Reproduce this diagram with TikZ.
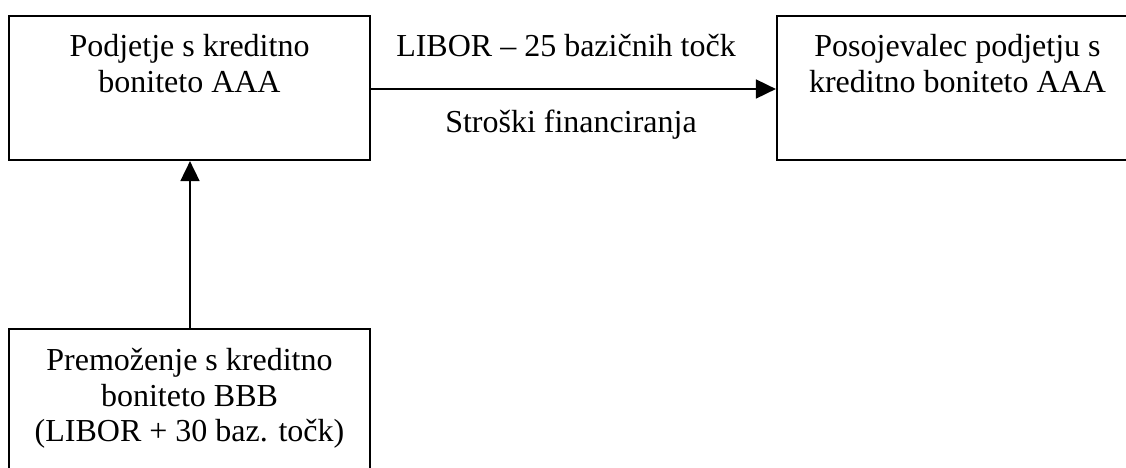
\documentclass[tikz,border=0pt]{standalone}
\usepackage{fontspec}
\setmainfont{Liberation Serif}
\usetikzlibrary{arrows.meta}
\begin{document}
\begin{tikzpicture}[x=0.5pt,y=-0.5pt,
  box/.style={draw, line width=1.1pt, minimum width=180.5pt, minimum height=72pt, inner sep=0pt},
  boxtext/.style={anchor=north, align=center, inner sep=0pt, font=\fontsize{16pt}{17.75pt}\selectfont},
  lbl/.style={anchor=base, inner sep=0pt, font=\fontsize{16pt}{17.75pt}\selectfont},
  flow/.style={line width=0.9pt, -{Triangle[length=10pt,width=9.5pt]}}]
  \clip (0,0) rectangle (1126,467);
  % the three parties
  \node[box] (firm) at (189.5,88) {};
  \node[box] (lender) at (957.5,88) {};
  \node[box] (asset) at (189.5,401) {};
  \node[boxtext] (firmtext) at (189.5,34) {Podjetje s kreditno\\boniteto AAA};
  \node[boxtext] (lendertext) at (957.5,34) {Posojevalec podjetju s\\kreditno boniteto AAA};
  \node[boxtext] (assettext) at (189.5,348) {Premoženje s kreditno\\boniteto BBB\\(LIBOR + 30 baz. točk)};
  % payment flows
  \draw[flow] (firm.east |- 0,89) -- (lender.west |- 0,89);
  \draw[flow] (asset.north -| 190,0) -- (firm.south -| 190,0);
  \node[lbl] (rate) at (566,56) {LIBOR – 25 bazičnih točk};
  \node[lbl] (cost) at (571,132) {Stroški financiranja};
\end{tikzpicture}
\end{document}
